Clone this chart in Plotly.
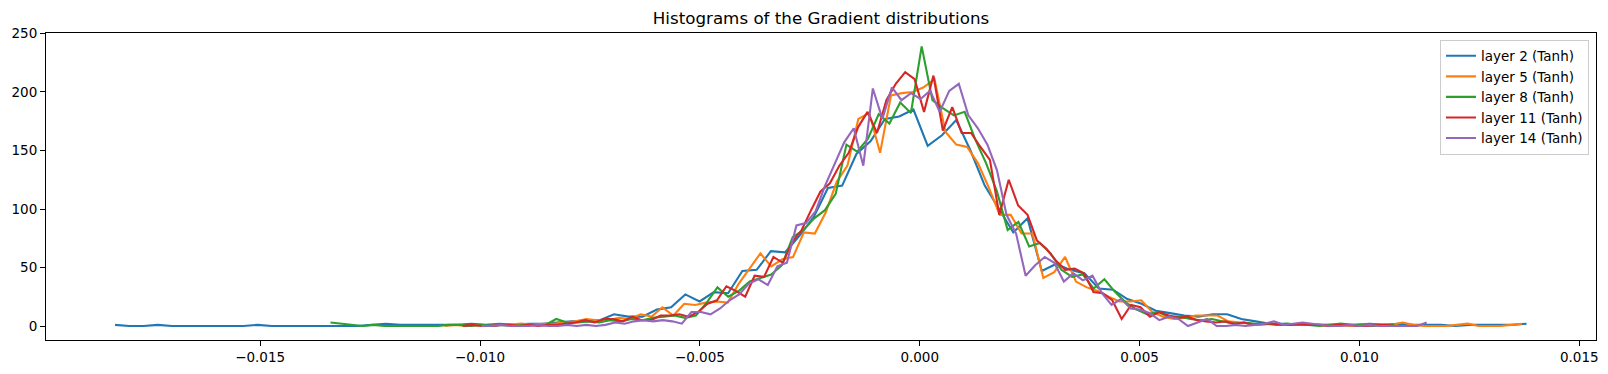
import numpy as np
import plotly.graph_objects as go

# Series names and colours
names = ["layer 2 (Tanh)", "layer 5 (Tanh)", "layer 8 (Tanh)", "layer 11 (Tanh)", "layer 14 (Tanh)"]
colors = ["#1f77b4", "#ff7f0e", "#2ca02c", "#d62728", "#9467bd"]

# Bin range (first and last bin edge plotted) for each layer's histogram (100 bins each)
x_start = [-0.0183, -0.0108, -0.0134, -0.01039, -0.00997]
x_end = [0.0138, 0.0137, 0.0108, 0.0108, 0.01153]

layer2 = [1,0,0,1,0,0,0,0,0,0,
          1,0,0,0,0,0,0,0,1,2,
          1,1,1,1,1,2,1,2,1,2,
          2,3,4,4,5,10,8,8,14,16,
          27,21,29,28,47,48,64,63,77,93,
          118,120,147,158,177,179,185,154,163,176,
          150,120,100,80,92,47,53,48,45,32,
          31,23,19,13,11,9,8,10,10,6,
          4,2,2,1,1,1,1,1,2,1,
          2,1,1,1,0,1,1,1,1,2]

layer5 = [0,1,0,1,0,1,1,2,1,2,
          2,3,4,6,5,5,7,6,10,8,
          16,9,19,18,20,21,20,36,49,62,
          51,57,59,80,79,97,123,137,177,182,
          148,197,199,200,204,211,166,155,153,139,
          118,95,95,79,79,41,46,59,38,33,
          30,25,21,21,22,12,8,6,7,9,
          9,9,4,3,2,1,2,1,1,2,
          1,1,1,0,1,1,1,1,3,1,
          0,0,0,1,2,0,0,0,1,2]

layer8 = [3,2,1,0,1,0,0,0,0,0,
          0,1,1,0,1,0,1,0,1,1,
          1,6,3,3,4,3,5,4,6,5,
          7,8,9,7,9,20,33,25,30,38,
          41,44,52,76,82,92,99,113,155,149,
          160,181,173,191,182,239,193,186,180,183,
          159,139,115,82,89,68,71,62,48,42,
          44,32,40,29,20,14,10,12,8,8,
          6,5,6,4,2,3,2,2,1,2,
          1,1,0,1,2,1,1,0,1,1]

layer11 = [0,1,0,0,1,1,0,1,0,1,
           1,2,3,5,3,6,6,4,8,5,
           5,9,9,10,8,12,19,22,34,30,
           25,43,42,59,54,72,82,99,115,122,
           137,148,170,183,165,193,207,217,211,183,
           214,167,187,165,165,153,142,95,125,103,
           95,73,66,56,48,49,45,29,28,22,
           6,18,16,8,12,9,7,8,5,4,
           3,4,2,3,1,2,2,1,1,2,
           1,1,0,1,1,0,0,1,1,0]

layer14 = [0,0,1,0,0,0,1,0,0,1,
           0,1,0,1,3,2,4,5,4,5,
           4,2,12,12,10,15,22,27,36,40,
           35,51,54,86,88,98,120,139,157,169,
           137,203,177,204,193,199,194,201,183,201,
           207,180,169,155,133,95,79,43,52,59,
           54,38,45,39,43,28,18,23,15,14,
           11,5,8,6,0,3,6,0,0,1,
           0,1,2,4,1,2,3,2,1,0,
           0,1,0,1,0,0,0,0,0,3]

series = [layer2, layer5, layer8, layer11, layer14]

x_tickvals = [-0.015, -0.010, -0.005, 0.0, 0.005, 0.010, 0.015]
x_ticktext = ["\u22120.015", "\u22120.010", "\u22120.005", "0.000", "0.005", "0.010", "0.015"]
y_tickvals = [0, 50, 100, 150, 200, 250]

fig = go.Figure()
for name, col, x0, x1, ys in zip(names, colors, x_start, x_end, series):
    xs = np.linspace(x0, x1, len(ys))
    fig.add_trace(go.Scatter(x=xs, y=ys, mode="lines", name=name,
                             line=dict(color=col, width=2.1)))

axis_common = dict(showline=True, linecolor="black", linewidth=1.1, mirror=True,
                   ticks="outside", ticklen=5, tickwidth=1.1, tickcolor="black",
                   showgrid=False, zeroline=False, automargin=False,
                   tickfont=dict(family="DejaVu Sans", size=13.5, color="black"))

fig.update_layout(
    width=1608, height=374,
    margin=dict(l=46, r=12, t=33, b=34),
    paper_bgcolor="white", plot_bgcolor="white",
    font=dict(family="DejaVu Sans", size=13.5, color="black"),
    title=dict(text="Histograms of the Gradient distributions",
               x=(46 + 1596) / 2 / 1608, xanchor="center",
               y=1 - 18 / 374, yanchor="middle", yref="container",
               font=dict(family="DejaVu Sans", size=16.7, color="black")),
    xaxis=dict(range=[-0.01987, 0.01538], tickvals=x_tickvals, ticktext=x_ticktext, **axis_common),
    yaxis=dict(range=[-11.95, 250.4], tickvals=y_tickvals, **axis_common),
    legend=dict(x=1 - 7 / 1550, y=1 - 6.5 / 307, xanchor="right", yanchor="top",
                bordercolor="#cccccc", borderwidth=1, bgcolor="rgba(255,255,255,0.8)",
                font=dict(family="DejaVu Sans", size=13.5, color="black"),
                tracegroupgap=0),
    showlegend=True,
)

fig.write_html("out.html", config={"displayModeBar": False})

# remove the browser's default page margin so the figure sits at the window origin
with open("out.html", "r", encoding="utf-8") as f:
    html = f.read()
html = html.replace("<head>", "<head><style>html,body{margin:0;padding:0;overflow:hidden;}</style>", 1)
with open("out.html", "w", encoding="utf-8") as f:
    f.write(html)
